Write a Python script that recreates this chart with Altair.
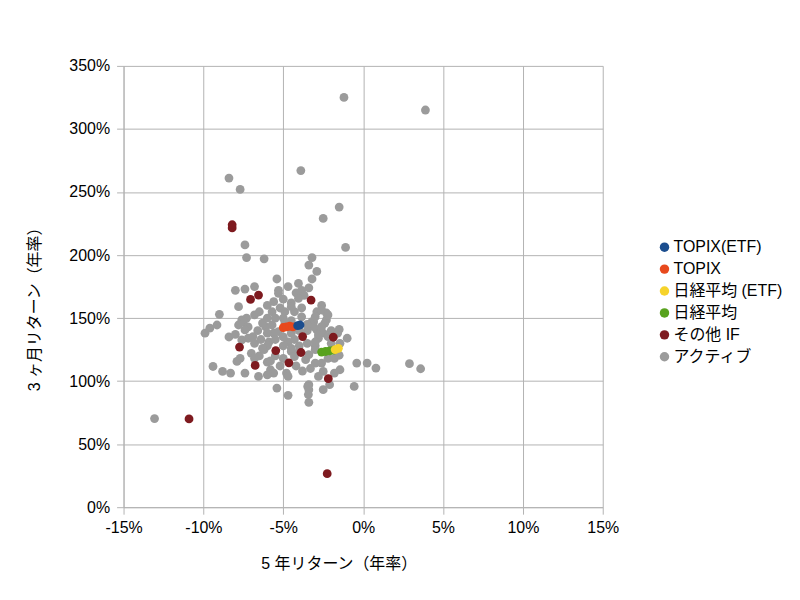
import altair as alt
import pandas as pd

# ---- data (x: 5-year return % p.a., y: 3-month return % annualised) ----
names = ["TOPIX(ETF)", "TOPIX", "日経平均 (ETF)", "日経平均", "その他 IF", "アクティブ"]
colors = ["#1b4d8e", "#e8491d", "#f6d32b", "#58a21e", "#7e1a1f", "#9b9b9b"]

topix_etf_x = [-4.1, -3.95]
topix_etf_y = [144.0, 144.5]

topix_x = [-5.0, -4.8, -4.6, -4.4]
topix_y = [142.5, 143.0, 143.5, 143.0]

nikkei_etf_x = [-1.75, -1.55]
nikkei_etf_y = [125.0, 126.0]

nikkei_x = [-2.6, -2.35, -2.1, -1.85]
nikkei_y = [123.0, 123.5, 124.0, 124.5]

other_if_x = [-8.2, -8.2, -7.05, -6.55, -3.26, -7.74, -5.47, -4.65, -6.76, -3.79, -1.87, -3.89, -2.18, -10.9, -2.25]
other_if_y = [221.5, 224.0, 164.8, 168.2, 164.3, 127.0, 124.2, 114.5, 112.4, 135.3, 134.8, 122.7, 101.9, 70.0, 26.6]

active_x = [
    -1.2, 3.9, -3.9, -8.4, -7.7, -1.5, -2.5, -1.1, -7.4, -7.3, -6.2, -3.2,
    -5.4, -8.0, -7.4, -6.8, -7.8, -9.0, -5.3, -7.6, -7.3, -3.4, -2.9, -3.2,
    -4.05, -3.4, -3.85, -4.2, -3.7, -4.05, -2.6, -2.9, -2.3, -2.3, -4.7, -4.5,
    -3.85, -4.3, -3.85, -3.1, -9.9, -9.6, -9.15, -7.5, -7.2, -8.4, -8.0, -7.2,
    -6.8, -6.4, -5.9, -5.6, -6.1, -7.0, -6.2, -4.7, -4.5, -7.7, -7.9, -9.4,
    -8.8, -8.3, -7.4, -6.55, -5.8, -5.6, -5.4, -4.8, -0.4, 0.25, 0.8, -0.56,
    -1.45, -1.8, -2.5, -2.8, -3.4, -3.4, -2.5, -2.1, -2.6, -3.0, -3.6, -4.3,
    -3.4, -4.5, -2.9, -2.5, -2.4, -1.0, -1.45, -3.2, -2.8, -4.7, -13.06, -4.7,
    -3.47, -3.43, -3.4, -5.6, -5.3, -5.7, -4.9, -4.5, -6.8, -6.3, -5.7, -3.0,
    -2.6, -2.2, -3.1, -2.6, -2.2, -7.4, -6.9, -6.0, -5.3, -2.8, 2.9, 3.6,
    -5.0, -4.5, -5.5, -6.0, -6.5, -6.0, -5.0, -4.0, -3.5, -3.5, -4.5, -5.0,
    -5.5, -6.0, -5.5, -5.0, -4.0, -3.5, -3.0, -3.0, -2.0, -1.5, -6.5, -6.0,
    -5.2, -4.2, -3.8, -3.3, -2.2, -1.8, -1.5, -7.8, -7.6, -6.0,
    -5.2, -4.9, -6.6, -6.3, -5.8, -4.3, -3.0, -2.0, -1.6, -4.0, -6.8, -5.0,
]
active_y = [
    325, 315, 267, 261, 252, 238, 229, 206, 208, 198, 197, 198,
    181, 172, 173, 175, 159, 153, 172, 148.5, 150, 192, 187, 181,
    177.5, 174, 172, 170, 168, 165.6, 160, 155, 154, 148.5, 175, 162,
    158, 155, 151, 147, 138, 142, 144.5, 147, 143, 135, 137, 134,
    130, 133, 131, 138, 143, 122, 125, 131, 123.5, 118, 115.6, 111.6,
    107.7, 106.4, 106.4, 103.7, 109, 106.4, 94.5, 106.4, 114.3, 114.3, 110.3, 95.8,
    109, 106.4, 107.7, 103.7, 97.2, 93.2, 93.2, 97.2, 114.3, 114.3, 117, 119.5,
    121, 126, 140.6, 138, 146, 134, 130, 147.2, 134, 103.7, 70.3, 88.7,
    95.8, 89.3, 83.2, 163, 169.6, 155, 155, 159, 152.5, 146, 144.5, 151,
    156.4, 152.5, 143.2, 143.2, 135.3, 140.6, 135.3, 138, 139.3, 136.6, 113.8, 109.8,
    150, 148, 150, 150, 155, 160, 165, 140, 140, 145, 138, 135,
    133, 128, 120, 118, 128, 130, 128, 125, 140, 141, 120, 115,
    112, 112, 108, 110, 118, 118, 120.5, 144.5, 132.7, 105,
    158, 146, 140, 126, 116, 133, 131, 130, 138, 124, 118, 128,
]

series = [
    (names[0], topix_etf_x, topix_etf_y),
    (names[1], topix_x, topix_y),
    (names[2], nikkei_etf_x, nikkei_etf_y),
    (names[3], nikkei_x, nikkei_y),
    (names[4], other_if_x, other_if_y),
    (names[5], active_x, active_y),
]

rows = []
for i, (name, xs, ys) in enumerate(series):
    for xv, yv in zip(xs, ys):
        rows.append({"series": name, "x": xv, "y": yv, "z": len(series) - i})
df = pd.DataFrame(rows)

FONT = "Liberation Sans, Noto Sans CJK JP, sans-serif"

chart = (
    alt.Chart(df)
    .mark_circle(size=78, opacity=1)
    .encode(
        x=alt.X(
            "x:Q",
            scale=alt.Scale(domain=[-15, 15], nice=False, zero=False),
            axis=alt.Axis(
                values=[-15, -10, -5, 0, 5, 10, 15],
                labelExpr="datum.value + '%'",
                labelFlush=False,
                title="5 年リターン（年率）",
                titleX=216,
                titleY=57,
                titleBaseline="middle",
                titleAlign="center",
                labelPadding=5,
            ),
        ),
        y=alt.Y(
            "y:Q",
            scale=alt.Scale(domain=[0, 350], nice=False),
            axis=alt.Axis(
                values=[0, 50, 100, 150, 200, 250, 300, 350],
                labelExpr="datum.value + '%'",
                labelFlush=False,
                title="3 ヶ月リターン（年率）",
                titleX=-89,
                titleY=240,
                titleAngle=270,
                titleBaseline="middle",
                titleAlign="center",
                labelPadding=7,
            ),
        ),
        color=alt.Color(
            "series:N",
            scale=alt.Scale(domain=names, range=colors),
            legend=alt.Legend(
                title=None,
                orient="none",
                legendX=535,
                legendY=174,
                symbolType="circle",
                symbolSize=90,
                labelFontSize=16,
                labelFont=FONT,
                labelColor="#000000",
                labelLimit=200,
                rowPadding=6,
                labelOffset=1,
                padding=0,
            ),
        ),
        order=alt.Order("z:Q"),
    )
    .properties(
        width=481,
        height=443,
        autosize=alt.AutoSizeParams(type="none"),
        padding={"left": 116, "top": 57, "right": 190, "bottom": 80},
    )
    .configure_view(strokeWidth=0)
    .configure_axis(
        labelFont=FONT,
        titleFont=FONT,
        labelFontSize=16,
        titleFontSize=16,
        titleFontWeight="normal",
        labelColor="#000000",
        titleColor="#000000",
        gridColor="#b3b3b3",
        domainColor="#b3b3b3",
        tickColor="#b3b3b3",
        tickSize=7,
        gridWidth=1,
        domainWidth=1,
    )
)

chart.save("out.html", embed_options={"renderer": "svg", "actions": False})
